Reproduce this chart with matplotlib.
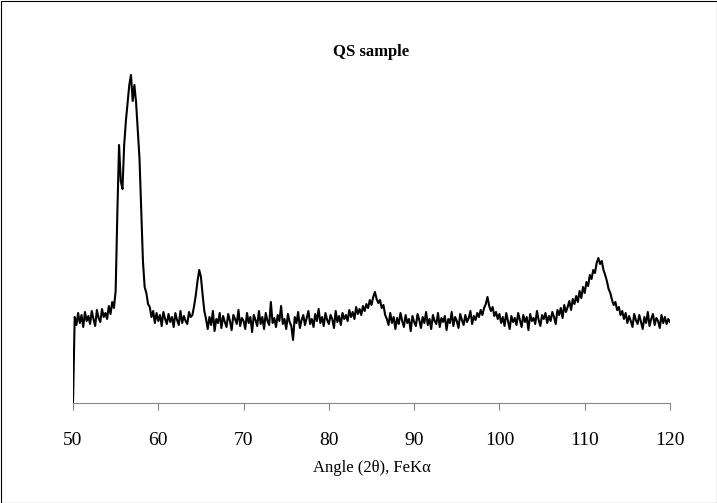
import numpy as np
import matplotlib.pyplot as plt
from matplotlib.patches import Rectangle

# scan: 50 -> 120 deg, 0.2 deg step (intensity in arbitrary units)
angle_start, angle_step = 50.0, 0.2
intensity = [
    0, 86, 78, 90, 80, 88, 76, 91, 82, 87,
    79, 92, 84, 77, 93, 85, 81, 94, 86, 90,
    84, 97, 89, 101, 95, 112, 190, 258, 222, 214,
    258, 282, 300, 318, 328, 302, 318, 300, 272, 244,
    192, 142, 116, 110, 99, 96, 86, 92, 80, 90,
    82, 88, 77, 91, 84, 79, 89, 81, 86, 76,
    90, 83, 78, 92, 80, 87, 82, 79, 91, 86,
    88, 97, 108, 122, 133, 126, 108, 92, 84, 74,
    86, 78, 92, 72, 84, 80, 90, 75, 87, 81,
    76, 89, 82, 73, 88, 84, 79, 93, 77, 85,
    82, 74, 90, 80, 86, 71, 88, 83, 77, 92,
    79, 86, 74, 90, 82, 78, 101, 80, 85, 76,
    88, 82, 97, 79, 84, 74, 89, 81, 77, 63,
    86, 80, 91, 75, 83, 88, 78, 85, 92, 79,
    84, 76, 89, 82, 94, 80, 86, 77, 90, 83,
    79, 88, 84, 75, 92, 81, 87, 78, 90, 84,
    88, 82, 93, 86, 91, 84, 96, 89, 94, 88,
    97, 92, 99, 95, 103, 98, 106, 111, 104, 100,
    103, 95, 98, 88, 84, 78, 90, 80, 86, 74,
    85, 79, 90, 82, 76, 88, 80, 84, 72, 87,
    81, 77, 89, 83, 75, 86, 80, 91, 78, 84,
    74, 88, 82, 79, 90, 76, 85, 81, 87, 73,
    84, 80, 91, 77, 86, 82, 75, 89, 83, 78,
    88, 81, 85, 92, 79, 87, 83, 90, 86, 93,
    88, 95, 99, 106, 97, 92, 96, 87, 91, 84,
    89, 80, 86, 77, 90, 82, 74, 87, 81, 85,
    78, 90, 83, 76, 88, 81, 86, 73, 89, 82,
    85, 79, 92, 83, 77, 88, 84, 90, 80, 87,
    82, 91, 86, 79, 93, 88, 95, 85, 98, 91,
    96, 102, 93, 104, 99, 107, 101, 112, 105, 116,
    110, 121, 117, 128, 124, 133, 130, 140, 145, 139,
    142, 133, 128, 122, 114, 110, 103, 98, 101, 93,
    96, 88, 92, 84, 90, 80, 87, 82, 76, 89,
    83, 79, 88, 81, 74, 86, 80, 91, 77, 84,
    89, 78, 85, 82, 75, 88, 80, 86, 79, 84,
    81,
]
angles = angle_start + angle_step*np.arange(len(intensity))
xticks = [50, 60, 70, 80, 90, 100, 110, 120]

plt.rcParams['font.family'] = ['Liberation Serif', 'DejaVu Serif']

fig = plt.figure(figsize=(7.17, 5.03), dpi=100)
ax = fig.add_axes([73/717, 100/503, 597/717, 340/503])
ax.plot(angles, intensity, color='black', lw=1.5)

ax.set_xlim(50, 120)
ax.set_ylim(0, 340)
ax.set_xticks(xticks)
ax.set_yticks([])
for s in ['top', 'right', 'left']:
    ax.spines[s].set_visible(False)
ax.spines['bottom'].set_color('#868686')
ax.tick_params(axis='x', colors='#868686', length=5, pad=16, labelsize=14,
               labelcolor='black')
ax.set_xlabel('Angle (2θ), FeKα', fontsize=12, labelpad=8)
fig.text(371/717, 1 - 52/503, 'QS sample', ha='center', va='center',
         fontsize=12, fontweight='bold')

# chart border
fig.patches.append(Rectangle((0.5/717, 0.5/503), 716/717, 502/503,
                             transform=fig.transFigure, fill=False,
                             edgecolor='black', lw=0.8))

fig.savefig('out.png', dpi=100)
